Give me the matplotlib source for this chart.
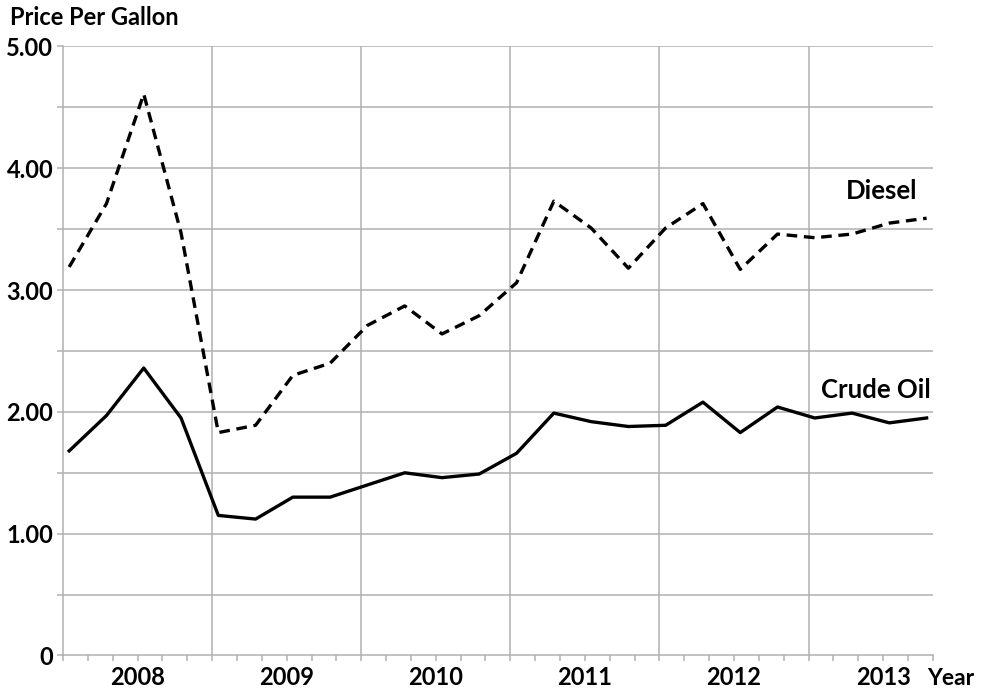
import matplotlib
matplotlib.use("Agg")
import matplotlib.pyplot as plt
from matplotlib.ticker import MultipleLocator
import numpy as np

plt.rcParams['font.family'] = ['Lato', 'DejaVu Sans']
plt.rcParams['font.weight'] = 'bold'

# quarterly readings, 2008 Q1 .. 2013 Q4 (mid-month of Jan/Apr/Jul/Oct)
years = [2008, 2009, 2010, 2011, 2012, 2013]
quarter_months = [1, 4, 7, 10]
diesel = [3.19, 3.71, 4.61, 3.47,
          1.83, 1.89, 2.30, 2.40,
          2.71, 2.87, 2.64, 2.79,
          3.06, 3.73, 3.51, 3.18,
          3.51, 3.71, 3.17, 3.46,
          3.43, 3.46, 3.55, 3.59]
crude = [1.68, 1.97, 2.36, 1.95,
         1.15, 1.12, 1.30, 1.30,
         1.40, 1.50, 1.46, 1.49,
         1.66, 1.99, 1.92, 1.88,
         1.89, 2.08, 1.83, 2.04,
         1.95, 1.99, 1.91, 1.95]
y_ticks = [0, 1, 2, 3, 4, 5]
y_tick_labels = ['0', '1.00', '2.00', '3.00', '4.00', '5.00']

t = np.array([y + (m - 0.5) / 12 for y in years for m in quarter_months])

fig = plt.figure(figsize=(9.84, 6.94), dpi=100)
ax = fig.add_axes([0.064, 0.0555, 0.884, 0.8775])

grid_c = '#b0b0b0'
ax.plot(t, diesel, color='black', lw=2.4, ls=(0, (3.2, 2.0)))
ax.plot(t, crude, color='black', lw=2.4)

ax.set_xlim(2008, 2013 + 10 / 12)
ax.set_ylim(0, 5)

# horizontal grid every 0.50, vertical grid at year boundaries
for v in np.arange(0.5, 5.01, 0.5):
    ax.axhline(v, color=grid_c, lw=1.1, zorder=0)
for yr in years[1:]:
    ax.axvline(yr, color=grid_c, lw=1.1, zorder=0)

ax.set_yticks(y_ticks)
ax.set_yticklabels(y_tick_labels, fontsize=17, fontweight='bold')
ax.yaxis.set_minor_locator(MultipleLocator(0.5))
ax.tick_params(axis='y', which='both', length=4, color=grid_c, width=1.1, pad=3)

ax.set_xticks([])
ax.xaxis.set_minor_locator(MultipleLocator(1 / 6))
ax.tick_params(axis='x', which='minor', length=4, color=grid_c, width=1.1)

for s in ['top', 'right']:
    ax.spines[s].set_visible(False)
for s in ['left', 'bottom']:
    ax.spines[s].set_color(grid_c)
    ax.spines[s].set_linewidth(1.1)

for yr in years:
    ax.text(yr + 0.5, -0.245, str(yr), ha='center', va='baseline', fontsize=17,
            fontweight='bold')
ax.text(2013.795, -0.245, 'Year', ha='left', va='baseline',
        fontsize=16.5, fontweight='bold')
fig.text(0.010, 0.992, 'Price Per Gallon', ha='left', va='top', fontsize=17,
         fontweight='bold')

ax.text(2013.49, 3.81, 'Diesel', ha='center', va='center', fontsize=18.5,
        fontweight='bold')
ax.text(2013.45, 2.18, 'Crude Oil', ha='center', va='center', fontsize=18.5,
        fontweight='bold')

fig.savefig('out.png', dpi=100)
